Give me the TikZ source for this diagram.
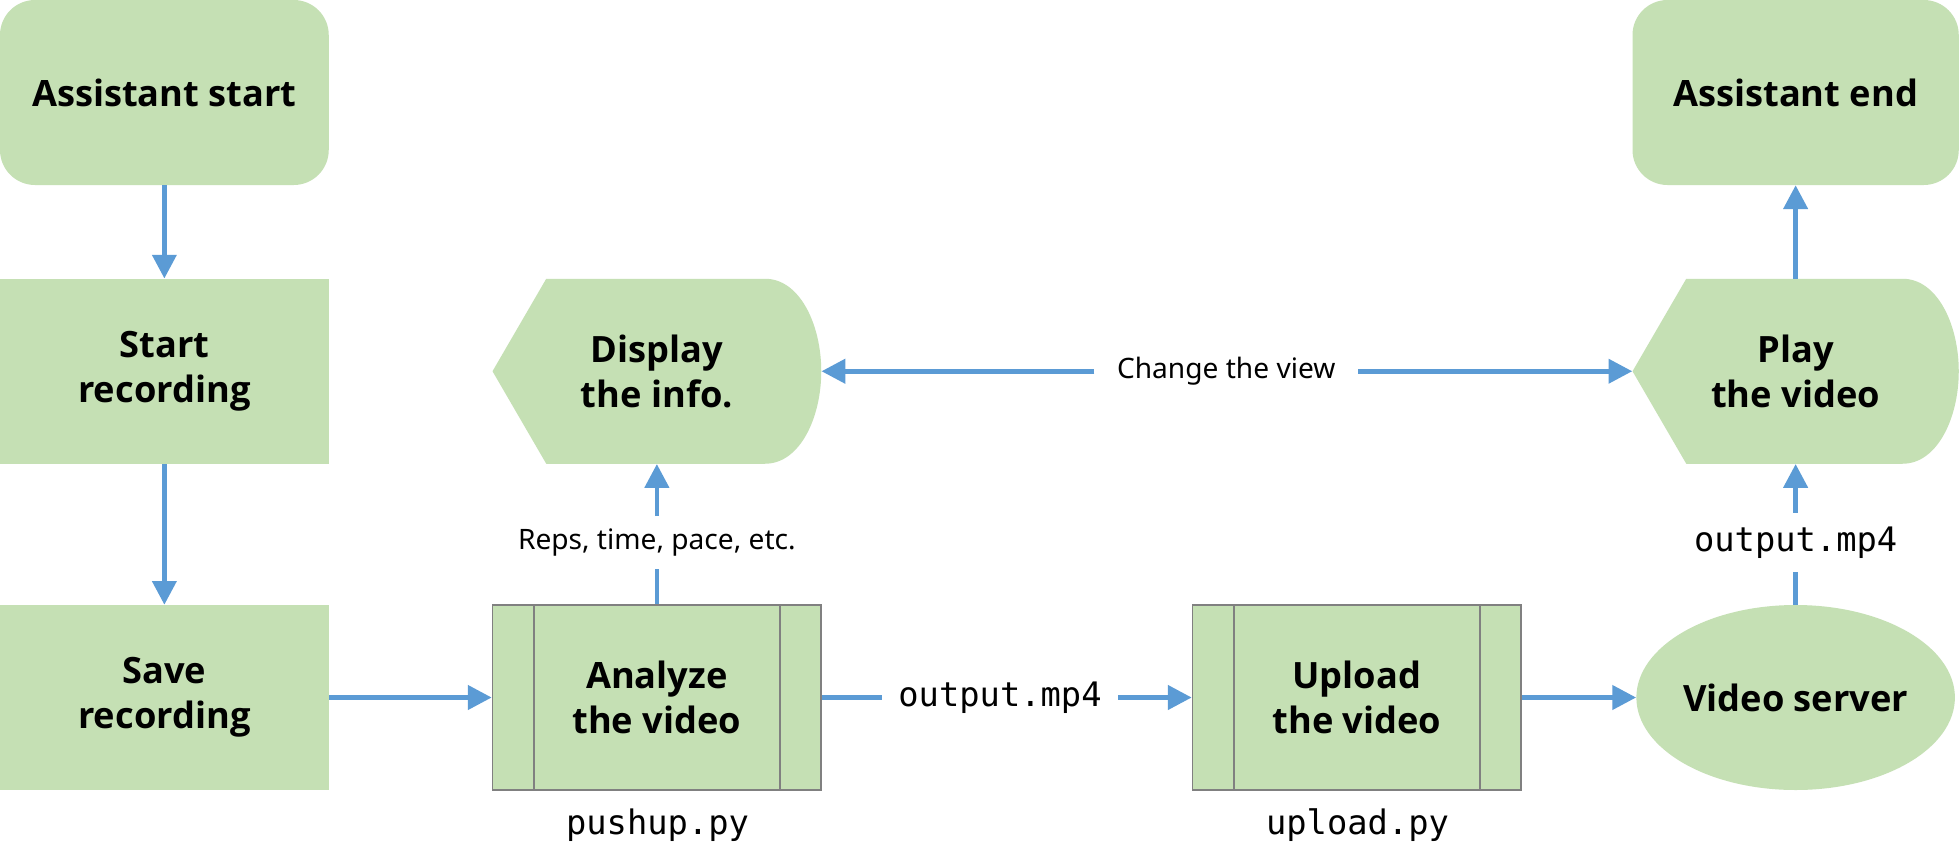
\documentclass[tikz,border=0pt]{standalone}
\usepackage{fontspec}
\setmainfont{Noto Sans}
\newfontfamily\boxfont{Open Sans}
\setmonofont{DejaVu Sans Mono}
\usetikzlibrary{shapes.geometric,arrows.meta}
\definecolor{boxgreen}{HTML}{C5E0B4}
\definecolor{arrblue}{HTML}{5B9BD5}
\definecolor{bordergray}{HTML}{808080}
\tikzset{
  boxtext/.style={font=\boxfont\fontsize{29}{36}\selectfont\bfseries, align=center, inner sep=0pt},
  termbox/.style={boxtext, fill=boxgreen, rounded corners=28pt, minimum width=263pt, minimum height=148pt},
  procbox/.style={boxtext, fill=boxgreen, minimum width=263pt, minimum height=148pt},
  predbox/.style={boxtext, fill=boxgreen, draw=bordergray, line width=1.3pt, minimum width=263pt, minimum height=148pt,
    path picture={
      \draw[bordergray, line width=1.3pt] ([xshift=33pt]path picture bounding box.north west) -- ([xshift=33pt]path picture bounding box.south west);
      \draw[bordergray, line width=1.3pt] ([xshift=-33pt]path picture bounding box.north east) -- ([xshift=-33pt]path picture bounding box.south east);
    }},
  ellbox/.style={boxtext, ellipse, fill=boxgreen, minimum width=250pt, minimum height=148pt},
  dispbox/.style={boxtext, minimum width=#1, minimum height=148pt,
    path picture={
      \fill[boxgreen] (path picture bounding box.west)
        -- ([xshift=43pt]path picture bounding box.north west)
        -- ([xshift=-45pt]path picture bounding box.north east)
        .. controls ([xshift=-17pt]path picture bounding box.north east) and ([yshift=37pt]path picture bounding box.east) .. (path picture bounding box.east)
        .. controls ([yshift=-37pt]path picture bounding box.east) and ([xshift=-17pt]path picture bounding box.south east) .. ([xshift=-45pt]path picture bounding box.south east)
        -- ([xshift=43pt]path picture bounding box.south west)
        -- cycle;
    }},
  lbl/.style={font=\fontsize{22.5}{27}\selectfont, inner xsep=18pt, inner ysep=10pt},
  monolbl/.style={font=\fontsize{27}{32}\ttfamily, inner xsep=13pt, inner ysep=11pt},
  arr/.style={draw=arrblue, line width=3.8pt, -{Triangle[width=19pt,length=19pt]}},
  seg/.style={draw=arrblue, line width=3.8pt},
}
\begin{document}
\begin{tikzpicture}[x=1pt, y=-1pt]
\fill[white] (0,0) rectangle (1568,693);
\useasboundingbox (0,0) rectangle (1568,693);

\node[termbox] (start) at (131.5,74) {Assistant start};
\node[procbox] (rec) at (131.5,297) {Start\\recording};
\node[procbox] (save) at (131.5,558) {Save\\recording};
\node[predbox] (analyze) at (525.5,558) {Analyze\\the video};
\node[predbox] (upload) at (1085.5,558) {Upload\\the video};
\node[ellbox] (server) at (1436.5,558) {Video server};
\node[dispbox=263pt] (display) at (525.5,297) {Display\\the info.};
\node[dispbox=261pt] (play) at (1436.5,297) {Play\\the video};
\node[termbox, minimum width=261pt] (end) at (1436.5,74) {Assistant end};

\node[lbl] (reps) at (525.5,434) {Reps, time, pace, etc.};
\node[lbl] (view) at (981,297) {Change the view};
\node[monolbl] (out1) at (800,558) {output.mp4};
\node[monolbl] (out2) at (1436.5,434) {output.mp4};
\node[font=\fontsize{27}{32}\ttfamily, inner sep=0pt] (pushup) at (526,660) {pushup.py};
\node[font=\fontsize{27}{32}\ttfamily, inner sep=0pt] (uploadpy) at (1086,660) {upload.py};

\draw[arr] (start.south) -- (rec.north);
\draw[arr] (rec.south) -- (save.north);
\draw[arr] (save.east) -- (analyze.west);
\draw[seg] (analyze.east) -- (out1.west);
\draw[arr] (out1.east) -- (upload.west);
\draw[arr] (upload.east) -- (server.west);
\draw[seg] (analyze.north) -- (reps.south);
\draw[arr] (reps.north) -- (display.south);
\draw[arr] (view.west) -- (display.east);
\draw[arr] (view.east) -- (play.west);
\draw[seg] (server.north) -- (out2.south);
\draw[arr] (out2.north) -- (play.south);
\draw[arr] (play.north) -- (end.south);
\end{tikzpicture}
\end{document}
